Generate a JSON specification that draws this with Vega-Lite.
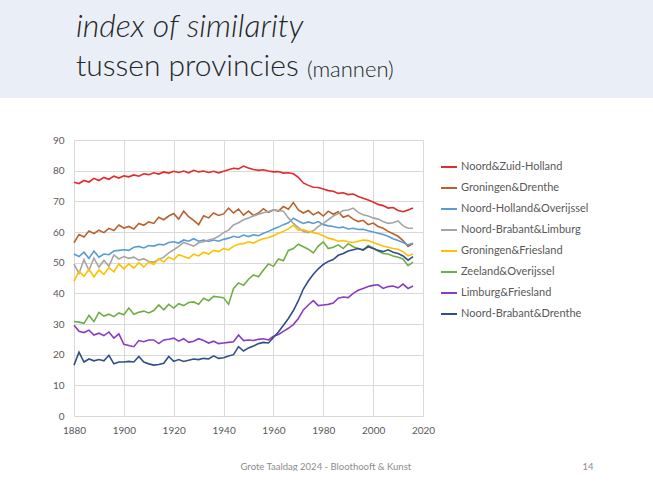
{
"$schema": "https://vega.github.io/schema/vega-lite/v6.json",
"padding": 0,
"autosize": {"type": "pad"},
"background": "white",
"config": {"view": {"stroke": null}, "font": "Lato"},
"title": {"text": "(mannen)", "anchor": "start", "orient": "top", "offset": 0, "fontSize": 22, "fontWeight": 300, "color": "#262626", "dx": 307, "dy": 82},
"spacing": 37,
"resolve": {"scale": {"color": "independent"}, "legend": {"color": "independent"}},
"datasets": {
"Noord&Zuid-Holland": [{"jaar":1880,"index":76.2},{"jaar":1882,"index":75.8},{"jaar":1884,"index":76.8},{"jaar":1886,"index":76.3},{"jaar":1888,"index":77.5},{"jaar":1890,"index":76.8},{"jaar":1892,"index":77.8},{"jaar":1894,"index":77.2},{"jaar":1896,"index":78.2},{"jaar":1898,"index":77.6},{"jaar":1900,"index":78.3},{"jaar":1902,"index":78.0},{"jaar":1904,"index":78.6},{"jaar":1906,"index":78.2},{"jaar":1908,"index":79.0},{"jaar":1910,"index":78.7},{"jaar":1912,"index":79.3},{"jaar":1914,"index":78.9},{"jaar":1916,"index":79.6},{"jaar":1918,"index":79.2},{"jaar":1920,"index":79.8},{"jaar":1922,"index":79.4},{"jaar":1924,"index":79.9},{"jaar":1926,"index":79.3},{"jaar":1928,"index":80.1},{"jaar":1930,"index":79.6},{"jaar":1932,"index":79.9},{"jaar":1934,"index":79.4},{"jaar":1936,"index":79.8},{"jaar":1938,"index":79.3},{"jaar":1940,"index":79.8},{"jaar":1942,"index":80.3},{"jaar":1944,"index":80.8},{"jaar":1946,"index":80.6},{"jaar":1948,"index":81.5},{"jaar":1950,"index":80.9},{"jaar":1952,"index":80.4},{"jaar":1954,"index":80.1},{"jaar":1956,"index":80.3},{"jaar":1958,"index":79.9},{"jaar":1960,"index":79.6},{"jaar":1962,"index":79.7},{"jaar":1964,"index":79.2},{"jaar":1966,"index":79.3},{"jaar":1968,"index":79.0},{"jaar":1970,"index":77.8},{"jaar":1972,"index":76.0},{"jaar":1974,"index":75.2},{"jaar":1976,"index":74.6},{"jaar":1978,"index":74.5},{"jaar":1980,"index":74.0},{"jaar":1982,"index":73.5},{"jaar":1984,"index":73.3},{"jaar":1986,"index":72.6},{"jaar":1988,"index":72.8},{"jaar":1990,"index":72.2},{"jaar":1992,"index":72.4},{"jaar":1994,"index":71.6},{"jaar":1996,"index":71.0},{"jaar":1998,"index":70.4},{"jaar":2000,"index":69.8},{"jaar":2002,"index":69.0},{"jaar":2004,"index":68.6},{"jaar":2006,"index":67.8},{"jaar":2008,"index":68.0},{"jaar":2010,"index":67.0},{"jaar":2012,"index":66.6},{"jaar":2014,"index":67.2},{"jaar":2016,"index":67.8}],
"Groningen&Drenthe": [{"jaar":1880,"index":56.5},{"jaar":1882,"index":59.2},{"jaar":1884,"index":58.4},{"jaar":1886,"index":60.3},{"jaar":1888,"index":59.5},{"jaar":1890,"index":60.6},{"jaar":1892,"index":59.8},{"jaar":1894,"index":61.2},{"jaar":1896,"index":60.5},{"jaar":1898,"index":62.3},{"jaar":1900,"index":61.3},{"jaar":1902,"index":61.8},{"jaar":1904,"index":61.0},{"jaar":1906,"index":62.8},{"jaar":1908,"index":62.2},{"jaar":1910,"index":63.3},{"jaar":1912,"index":62.8},{"jaar":1914,"index":64.8},{"jaar":1916,"index":64.0},{"jaar":1918,"index":65.2},{"jaar":1920,"index":66.0},{"jaar":1922,"index":64.2},{"jaar":1924,"index":66.8},{"jaar":1926,"index":65.0},{"jaar":1928,"index":63.8},{"jaar":1930,"index":62.4},{"jaar":1932,"index":65.3},{"jaar":1934,"index":64.6},{"jaar":1936,"index":66.2},{"jaar":1938,"index":65.4},{"jaar":1940,"index":65.9},{"jaar":1942,"index":67.8},{"jaar":1944,"index":66.2},{"jaar":1946,"index":67.5},{"jaar":1948,"index":65.5},{"jaar":1950,"index":66.8},{"jaar":1952,"index":65.4},{"jaar":1954,"index":66.2},{"jaar":1956,"index":67.6},{"jaar":1958,"index":66.4},{"jaar":1960,"index":67.2},{"jaar":1962,"index":66.8},{"jaar":1964,"index":68.3},{"jaar":1966,"index":67.4},{"jaar":1968,"index":69.6},{"jaar":1970,"index":67.2},{"jaar":1972,"index":66.2},{"jaar":1974,"index":67.0},{"jaar":1976,"index":65.6},{"jaar":1978,"index":66.5},{"jaar":1980,"index":65.2},{"jaar":1982,"index":66.8},{"jaar":1984,"index":65.8},{"jaar":1986,"index":66.6},{"jaar":1988,"index":64.8},{"jaar":1990,"index":65.4},{"jaar":1992,"index":64.2},{"jaar":1994,"index":63.4},{"jaar":1996,"index":63.8},{"jaar":1998,"index":62.4},{"jaar":2000,"index":62.9},{"jaar":2002,"index":61.8},{"jaar":2004,"index":61.2},{"jaar":2006,"index":60.2},{"jaar":2008,"index":59.4},{"jaar":2010,"index":58.6},{"jaar":2012,"index":57.2},{"jaar":2014,"index":55.3},{"jaar":2016,"index":56.2}],
"Noord-Holland&Overijssel": [{"jaar":1880,"index":52.8},{"jaar":1882,"index":52.0},{"jaar":1884,"index":53.4},{"jaar":1886,"index":51.4},{"jaar":1888,"index":53.8},{"jaar":1890,"index":51.8},{"jaar":1892,"index":52.8},{"jaar":1894,"index":52.6},{"jaar":1896,"index":53.8},{"jaar":1898,"index":54.0},{"jaar":1900,"index":54.2},{"jaar":1902,"index":54.0},{"jaar":1904,"index":55.0},{"jaar":1906,"index":55.3},{"jaar":1908,"index":54.8},{"jaar":1910,"index":55.6},{"jaar":1912,"index":55.4},{"jaar":1914,"index":56.0},{"jaar":1916,"index":55.8},{"jaar":1918,"index":56.6},{"jaar":1920,"index":56.8},{"jaar":1922,"index":56.4},{"jaar":1924,"index":57.4},{"jaar":1926,"index":57.0},{"jaar":1928,"index":57.8},{"jaar":1930,"index":57.0},{"jaar":1932,"index":57.4},{"jaar":1934,"index":56.9},{"jaar":1936,"index":57.4},{"jaar":1938,"index":57.0},{"jaar":1940,"index":57.6},{"jaar":1942,"index":58.0},{"jaar":1944,"index":58.6},{"jaar":1946,"index":58.2},{"jaar":1948,"index":59.0},{"jaar":1950,"index":58.5},{"jaar":1952,"index":59.1},{"jaar":1954,"index":58.8},{"jaar":1956,"index":59.6},{"jaar":1958,"index":60.2},{"jaar":1960,"index":61.0},{"jaar":1962,"index":61.6},{"jaar":1964,"index":62.4},{"jaar":1966,"index":63.0},{"jaar":1968,"index":64.5},{"jaar":1970,"index":63.6},{"jaar":1972,"index":62.8},{"jaar":1974,"index":63.3},{"jaar":1976,"index":62.8},{"jaar":1978,"index":63.4},{"jaar":1980,"index":62.4},{"jaar":1982,"index":62.0},{"jaar":1984,"index":61.8},{"jaar":1986,"index":61.4},{"jaar":1988,"index":61.6},{"jaar":1990,"index":61.0},{"jaar":1992,"index":61.2},{"jaar":1994,"index":60.8},{"jaar":1996,"index":60.9},{"jaar":1998,"index":60.4},{"jaar":2000,"index":60.0},{"jaar":2002,"index":59.6},{"jaar":2004,"index":59.2},{"jaar":2006,"index":58.6},{"jaar":2008,"index":57.8},{"jaar":2010,"index":57.2},{"jaar":2012,"index":56.6},{"jaar":2014,"index":55.8},{"jaar":2016,"index":56.3}],
"Noord-Brabant&Limburg": [{"jaar":1880,"index":49.5},{"jaar":1882,"index":46.5},{"jaar":1884,"index":51.0},{"jaar":1886,"index":47.5},{"jaar":1888,"index":51.5},{"jaar":1890,"index":48.5},{"jaar":1892,"index":50.8},{"jaar":1894,"index":48.8},{"jaar":1896,"index":52.5},{"jaar":1898,"index":51.2},{"jaar":1900,"index":52.0},{"jaar":1902,"index":51.4},{"jaar":1904,"index":51.8},{"jaar":1906,"index":50.8},{"jaar":1908,"index":51.3},{"jaar":1910,"index":50.4},{"jaar":1912,"index":50.2},{"jaar":1914,"index":51.0},{"jaar":1916,"index":51.8},{"jaar":1918,"index":53.2},{"jaar":1920,"index":54.2},{"jaar":1922,"index":55.3},{"jaar":1924,"index":56.6},{"jaar":1926,"index":56.0},{"jaar":1928,"index":55.4},{"jaar":1930,"index":56.5},{"jaar":1932,"index":56.8},{"jaar":1934,"index":57.4},{"jaar":1936,"index":57.8},{"jaar":1938,"index":58.6},{"jaar":1940,"index":59.8},{"jaar":1942,"index":60.6},{"jaar":1944,"index":62.3},{"jaar":1946,"index":63.0},{"jaar":1948,"index":64.0},{"jaar":1950,"index":64.6},{"jaar":1952,"index":65.2},{"jaar":1954,"index":65.8},{"jaar":1956,"index":66.3},{"jaar":1958,"index":66.7},{"jaar":1960,"index":67.2},{"jaar":1962,"index":67.0},{"jaar":1964,"index":66.8},{"jaar":1966,"index":64.6},{"jaar":1968,"index":62.8},{"jaar":1970,"index":61.4},{"jaar":1972,"index":60.2},{"jaar":1974,"index":59.8},{"jaar":1976,"index":60.4},{"jaar":1978,"index":61.8},{"jaar":1980,"index":62.8},{"jaar":1982,"index":64.0},{"jaar":1984,"index":65.2},{"jaar":1986,"index":66.0},{"jaar":1988,"index":67.0},{"jaar":1990,"index":67.2},{"jaar":1992,"index":67.8},{"jaar":1994,"index":66.4},{"jaar":1996,"index":65.6},{"jaar":1998,"index":65.2},{"jaar":2000,"index":64.6},{"jaar":2002,"index":64.2},{"jaar":2004,"index":63.4},{"jaar":2006,"index":62.8},{"jaar":2008,"index":63.0},{"jaar":2010,"index":63.6},{"jaar":2012,"index":62.0},{"jaar":2014,"index":61.2},{"jaar":2016,"index":61.2}],
"Groningen&Friesland": [{"jaar":1880,"index":44.0},{"jaar":1882,"index":47.2},{"jaar":1884,"index":45.6},{"jaar":1886,"index":47.8},{"jaar":1888,"index":45.4},{"jaar":1890,"index":47.6},{"jaar":1892,"index":46.2},{"jaar":1894,"index":48.4},{"jaar":1896,"index":47.0},{"jaar":1898,"index":49.6},{"jaar":1900,"index":48.0},{"jaar":1902,"index":49.6},{"jaar":1904,"index":48.2},{"jaar":1906,"index":50.0},{"jaar":1908,"index":48.6},{"jaar":1910,"index":50.2},{"jaar":1912,"index":49.4},{"jaar":1914,"index":51.3},{"jaar":1916,"index":50.2},{"jaar":1918,"index":51.8},{"jaar":1920,"index":51.0},{"jaar":1922,"index":52.6},{"jaar":1924,"index":52.0},{"jaar":1926,"index":51.4},{"jaar":1928,"index":52.8},{"jaar":1930,"index":52.2},{"jaar":1932,"index":53.4},{"jaar":1934,"index":52.8},{"jaar":1936,"index":54.0},{"jaar":1938,"index":53.6},{"jaar":1940,"index":54.6},{"jaar":1942,"index":54.2},{"jaar":1944,"index":55.4},{"jaar":1946,"index":56.0},{"jaar":1948,"index":56.2},{"jaar":1950,"index":56.8},{"jaar":1952,"index":56.4},{"jaar":1954,"index":57.2},{"jaar":1956,"index":57.8},{"jaar":1958,"index":58.2},{"jaar":1960,"index":58.8},{"jaar":1962,"index":59.6},{"jaar":1964,"index":60.2},{"jaar":1966,"index":61.0},{"jaar":1968,"index":62.2},{"jaar":1970,"index":60.6},{"jaar":1972,"index":60.8},{"jaar":1974,"index":60.2},{"jaar":1976,"index":59.8},{"jaar":1978,"index":59.4},{"jaar":1980,"index":58.8},{"jaar":1982,"index":58.0},{"jaar":1984,"index":57.6},{"jaar":1986,"index":57.0},{"jaar":1988,"index":57.2},{"jaar":1990,"index":56.8},{"jaar":1992,"index":56.6},{"jaar":1994,"index":57.0},{"jaar":1996,"index":57.4},{"jaar":1998,"index":57.2},{"jaar":2000,"index":56.6},{"jaar":2002,"index":56.0},{"jaar":2004,"index":55.4},{"jaar":2006,"index":55.0},{"jaar":2008,"index":54.6},{"jaar":2010,"index":54.4},{"jaar":2012,"index":53.6},{"jaar":2014,"index":52.2},{"jaar":2016,"index":52.8}],
"Zeeland&Overijssel": [{"jaar":1880,"index":30.8},{"jaar":1882,"index":30.6},{"jaar":1884,"index":30.2},{"jaar":1886,"index":32.8},{"jaar":1888,"index":30.8},{"jaar":1890,"index":33.8},{"jaar":1892,"index":32.6},{"jaar":1894,"index":33.2},{"jaar":1896,"index":32.4},{"jaar":1898,"index":33.6},{"jaar":1900,"index":33.0},{"jaar":1902,"index":35.2},{"jaar":1904,"index":33.2},{"jaar":1906,"index":33.8},{"jaar":1908,"index":34.2},{"jaar":1910,"index":33.6},{"jaar":1912,"index":34.4},{"jaar":1914,"index":36.2},{"jaar":1916,"index":34.6},{"jaar":1918,"index":36.4},{"jaar":1920,"index":35.2},{"jaar":1922,"index":36.6},{"jaar":1924,"index":36.0},{"jaar":1926,"index":37.0},{"jaar":1928,"index":37.2},{"jaar":1930,"index":36.4},{"jaar":1932,"index":38.4},{"jaar":1934,"index":37.6},{"jaar":1936,"index":39.0},{"jaar":1938,"index":38.8},{"jaar":1940,"index":38.6},{"jaar":1942,"index":36.4},{"jaar":1944,"index":41.6},{"jaar":1946,"index":43.4},{"jaar":1948,"index":42.6},{"jaar":1950,"index":44.6},{"jaar":1952,"index":46.0},{"jaar":1954,"index":45.4},{"jaar":1956,"index":47.6},{"jaar":1958,"index":49.6},{"jaar":1960,"index":48.8},{"jaar":1962,"index":51.2},{"jaar":1964,"index":50.6},{"jaar":1966,"index":54.0},{"jaar":1968,"index":54.6},{"jaar":1970,"index":56.0},{"jaar":1972,"index":55.2},{"jaar":1974,"index":54.4},{"jaar":1976,"index":53.2},{"jaar":1978,"index":55.4},{"jaar":1980,"index":56.8},{"jaar":1982,"index":54.6},{"jaar":1984,"index":55.0},{"jaar":1986,"index":55.8},{"jaar":1988,"index":54.6},{"jaar":1990,"index":56.2},{"jaar":1992,"index":55.2},{"jaar":1994,"index":54.6},{"jaar":1996,"index":54.0},{"jaar":1998,"index":55.6},{"jaar":2000,"index":54.8},{"jaar":2002,"index":53.8},{"jaar":2004,"index":53.0},{"jaar":2006,"index":52.8},{"jaar":2008,"index":52.2},{"jaar":2010,"index":51.8},{"jaar":2012,"index":51.2},{"jaar":2014,"index":49.0},{"jaar":2016,"index":50.2}],
"Limburg&Friesland": [{"jaar":1880,"index":29.6},{"jaar":1882,"index":27.6},{"jaar":1884,"index":27.2},{"jaar":1886,"index":28.0},{"jaar":1888,"index":26.4},{"jaar":1890,"index":27.0},{"jaar":1892,"index":26.2},{"jaar":1894,"index":27.4},{"jaar":1896,"index":25.4},{"jaar":1898,"index":26.8},{"jaar":1900,"index":23.4},{"jaar":1902,"index":23.0},{"jaar":1904,"index":22.6},{"jaar":1906,"index":24.6},{"jaar":1908,"index":24.2},{"jaar":1910,"index":24.8},{"jaar":1912,"index":24.8},{"jaar":1914,"index":23.6},{"jaar":1916,"index":24.8},{"jaar":1918,"index":25.0},{"jaar":1920,"index":25.4},{"jaar":1922,"index":24.4},{"jaar":1924,"index":25.2},{"jaar":1926,"index":24.0},{"jaar":1928,"index":24.4},{"jaar":1930,"index":25.2},{"jaar":1932,"index":24.6},{"jaar":1934,"index":23.8},{"jaar":1936,"index":24.4},{"jaar":1938,"index":23.6},{"jaar":1940,"index":23.8},{"jaar":1942,"index":24.0},{"jaar":1944,"index":24.2},{"jaar":1946,"index":26.4},{"jaar":1948,"index":24.6},{"jaar":1950,"index":24.8},{"jaar":1952,"index":24.6},{"jaar":1954,"index":25.0},{"jaar":1956,"index":25.2},{"jaar":1958,"index":24.8},{"jaar":1960,"index":26.0},{"jaar":1962,"index":26.6},{"jaar":1964,"index":27.6},{"jaar":1966,"index":28.6},{"jaar":1968,"index":29.8},{"jaar":1970,"index":31.8},{"jaar":1972,"index":34.6},{"jaar":1974,"index":36.2},{"jaar":1976,"index":37.6},{"jaar":1978,"index":36.0},{"jaar":1980,"index":36.2},{"jaar":1982,"index":36.4},{"jaar":1984,"index":36.8},{"jaar":1986,"index":38.4},{"jaar":1988,"index":38.8},{"jaar":1990,"index":38.6},{"jaar":1992,"index":40.0},{"jaar":1994,"index":41.0},{"jaar":1996,"index":41.6},{"jaar":1998,"index":42.2},{"jaar":2000,"index":42.6},{"jaar":2002,"index":42.8},{"jaar":2004,"index":41.6},{"jaar":2006,"index":42.2},{"jaar":2008,"index":42.4},{"jaar":2010,"index":41.8},{"jaar":2012,"index":43.0},{"jaar":2014,"index":41.6},{"jaar":2016,"index":42.4}],
"Noord-Brabant&Drenthe": [{"jaar":1880,"index":16.6},{"jaar":1882,"index":20.8},{"jaar":1884,"index":17.6},{"jaar":1886,"index":18.6},{"jaar":1888,"index":18.0},{"jaar":1890,"index":18.4},{"jaar":1892,"index":18.0},{"jaar":1894,"index":19.8},{"jaar":1896,"index":17.0},{"jaar":1898,"index":17.6},{"jaar":1900,"index":17.6},{"jaar":1902,"index":17.8},{"jaar":1904,"index":17.6},{"jaar":1906,"index":19.4},{"jaar":1908,"index":17.6},{"jaar":1910,"index":17.0},{"jaar":1912,"index":16.6},{"jaar":1914,"index":16.8},{"jaar":1916,"index":17.2},{"jaar":1918,"index":19.4},{"jaar":1920,"index":17.8},{"jaar":1922,"index":18.4},{"jaar":1924,"index":17.8},{"jaar":1926,"index":18.2},{"jaar":1928,"index":18.6},{"jaar":1930,"index":18.4},{"jaar":1932,"index":18.8},{"jaar":1934,"index":18.6},{"jaar":1936,"index":19.6},{"jaar":1938,"index":18.8},{"jaar":1940,"index":19.0},{"jaar":1942,"index":19.6},{"jaar":1944,"index":20.0},{"jaar":1946,"index":22.6},{"jaar":1948,"index":21.2},{"jaar":1950,"index":22.2},{"jaar":1952,"index":22.8},{"jaar":1954,"index":23.6},{"jaar":1956,"index":24.0},{"jaar":1958,"index":23.8},{"jaar":1960,"index":25.6},{"jaar":1962,"index":27.4},{"jaar":1964,"index":29.6},{"jaar":1966,"index":31.8},{"jaar":1968,"index":34.4},{"jaar":1970,"index":37.6},{"jaar":1972,"index":41.4},{"jaar":1974,"index":44.0},{"jaar":1976,"index":46.2},{"jaar":1978,"index":48.0},{"jaar":1980,"index":49.4},{"jaar":1982,"index":50.4},{"jaar":1984,"index":51.0},{"jaar":1986,"index":52.4},{"jaar":1988,"index":53.0},{"jaar":1990,"index":53.8},{"jaar":1992,"index":54.2},{"jaar":1994,"index":54.6},{"jaar":1996,"index":54.2},{"jaar":1998,"index":55.2},{"jaar":2000,"index":54.6},{"jaar":2002,"index":54.0},{"jaar":2004,"index":53.6},{"jaar":2006,"index":54.2},{"jaar":2008,"index":53.4},{"jaar":2010,"index":53.0},{"jaar":2012,"index":52.2},{"jaar":2014,"index":50.8},{"jaar":2016,"index":52.0}]
},
"vconcat": [
{
"width": 653, "height": 98,
"view": {"fill": "#EAEFF7", "stroke": null},
"data": {"values": []},
"mark": "text",
"encoding": {},
"title": {"text": "index of similarity", "subtitle": "tussen provincies", "anchor": "start", "frame": "group", "orient": "top", "offset": 0, "fontSize": 32, "fontStyle": "italic", "fontWeight": 300, "color": "#262626", "subtitleFont": "Lato", "subtitleFontSize": 30, "subtitleFontWeight": 300, "subtitleColor": "#262626", "subtitlePadding": 8, "dx": 76, "dy": 83}
},
{
"spacing": 0,
"resolve": {"scale": {"color": "independent"}, "legend": {"color": "independent"}},
"hconcat": [
{
"width": 52, "height": 1,
"view": {"fill": "white", "stroke": null},
"data": {"values": []},
"mark": "text",
"encoding": {}
},
{
"width": 349, "height": 276,
"encoding": {
"x": {"field": "jaar", "type": "quantitative", "scale": {"domain": [1880, 2020], "nice": false, "zero": false},
 "axis": {"values": [1880,1900,1920,1940,1960,1980,2000,2020], "format": "d", "grid": true, "gridColor": "#D9D9D9", "domain": false, "ticks": false, "labelFlush": false, "labelPadding": 9, "labelFontSize": 10, "labelColor": "#595959",
  "title": "Grote Taaldag 2024 - Bloothooft & Kunst", "titleX": 166, "titleY": 53, "titleAlign": "left", "titleBaseline": "alphabetic", "titleFontSize": 9.5, "titleFontWeight": "normal", "titleColor": "#8C8C8C"}},
"y": {"field": "index", "type": "quantitative", "scale": {"domain": [0, 90], "nice": false},
 "axis": {"values": [0,10,20,30,40,50,60,70,80,90], "grid": true, "gridColor": "#D9D9D9", "domain": false, "ticks": false, "labelPadding": 10, "labelFontSize": 10, "labelColor": "#595959",
  "title": "14", "titleAngle": 0, "titleX": 508, "titleY": 329, "titleAlign": "left", "titleBaseline": "alphabetic", "titleFontSize": 9.5, "titleFontWeight": "normal", "titleColor": "#8C8C8C"}}
},
"layer": [
{"data": {"name": "Noord&Zuid-Holland"}, "mark": {"type": "line", "strokeWidth": 1.6}, "encoding": {"color": {"datum": "Noord&Zuid-Holland", "type": "nominal",
 "scale": {"domain": ["Noord&Zuid-Holland","Groningen&Drenthe","Noord-Holland&Overijssel","Noord-Brabant&Limburg","Groningen&Friesland","Zeeland&Overijssel","Limburg&Friesland","Noord-Brabant&Drenthe"],
  "range": ["#E32B2B","#B8632D","#5B9BD5","#A5A5A5","#FFC000","#70AD47","#8B3DC0","#2F4F8A"]},
 "legend": {"title": null, "orient": "none", "legendX": 366, "legendY": 18, "symbolType": "stroke", "symbolSize": 256, "symbolStrokeWidth": 2, "labelFontSize": 11, "labelColor": "#595959", "rowPadding": 7, "labelOffset": 3, "padding": 0}}}},
{"data": {"name": "Groningen&Drenthe"}, "mark": {"type": "line", "strokeWidth": 1.6}, "encoding": {"color": {"datum": "Groningen&Drenthe", "type": "nominal"}}},
{"data": {"name": "Noord-Holland&Overijssel"}, "mark": {"type": "line", "strokeWidth": 1.6}, "encoding": {"color": {"datum": "Noord-Holland&Overijssel", "type": "nominal"}}},
{"data": {"name": "Noord-Brabant&Limburg"}, "mark": {"type": "line", "strokeWidth": 1.6}, "encoding": {"color": {"datum": "Noord-Brabant&Limburg", "type": "nominal"}}},
{"data": {"name": "Groningen&Friesland"}, "mark": {"type": "line", "strokeWidth": 1.6}, "encoding": {"color": {"datum": "Groningen&Friesland", "type": "nominal"}}},
{"data": {"name": "Zeeland&Overijssel"}, "mark": {"type": "line", "strokeWidth": 1.6}, "encoding": {"color": {"datum": "Zeeland&Overijssel", "type": "nominal"}}},
{"data": {"name": "Limburg&Friesland"}, "mark": {"type": "line", "strokeWidth": 1.6}, "encoding": {"color": {"datum": "Limburg&Friesland", "type": "nominal"}}},
{"data": {"name": "Noord-Brabant&Drenthe"}, "mark": {"type": "line", "strokeWidth": 1.6}, "encoding": {"color": {"datum": "Noord-Brabant&Drenthe", "type": "nominal"}}}
]
}
]
}
]
}
